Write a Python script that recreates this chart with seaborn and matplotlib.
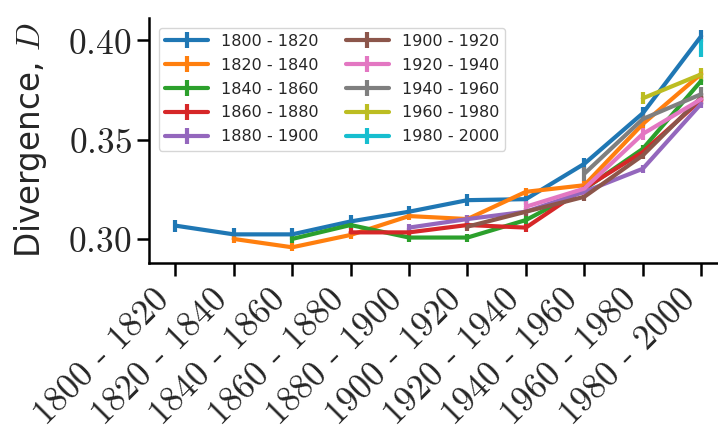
import numpy as np
import pandas as pd
import matplotlib
matplotlib.use('Agg')
import matplotlib.pyplot as plt
import seaborn as sns

periods = ['1800 - 1820', '1820 - 1840', '1840 - 1860', '1860 - 1880', '1880 - 1900',
           '1900 - 1920', '1920 - 1940', '1940 - 1960', '1960 - 1980', '1980 - 2000']

# divergence of each cohort, starting at its own period
d_1800 = [0.3067, 0.3023, 0.3023, 0.3088, 0.3137, 0.3195, 0.3200, 0.3378, 0.3632, 0.4020]
d_1820 = [0.3000, 0.2958, 0.3020, 0.3115, 0.3100, 0.3237, 0.3270, 0.3578, 0.3830]
d_1840 = [0.3000, 0.3070, 0.3007, 0.3007, 0.3095, 0.3250, 0.3453, 0.3795]
d_1860 = [0.3033, 0.3033, 0.3070, 0.3057, 0.3255, 0.3437, 0.3700]
d_1880 = [0.3057, 0.3100, 0.3137, 0.3237, 0.3353, 0.3680]
d_1900 = [0.3062, 0.3137, 0.3212, 0.3420, 0.3712]
d_1920 = [0.3162, 0.3253, 0.3528, 0.3703]
d_1940 = [0.3328, 0.3603, 0.3728]
d_1960 = [0.3707, 0.3828]
d_1980 = [0.3962]

series = [d_1800, d_1820, d_1840, d_1860, d_1880, d_1900, d_1920, d_1940, d_1960, d_1980]
errors = [0.003, 0.002, 0.002, 0.002, 0.002, 0.002, 0.003, 0.0035, 0.003, 0.0045]

rows = []
for i, vals in enumerate(series):
    for j, v in enumerate(vals):
        rows.append({'cohort': periods[i], 'period': i + j, 'D': v, 'err': errors[i]})
df = pd.DataFrame(rows)

sns.set_style('ticks')
plt.rcParams['font.family'] = ['DejaVu Sans']
plt.rcParams['mathtext.fontset'] = 'cm'
colors = sns.color_palette('tab10', 10)

fig = plt.figure(figsize=(7.18, 4.26), dpi=100)
ax = fig.add_axes([149 / 718, 1 - 263 / 426, 578.5 / 718, 245 / 426])

for k, name in enumerate(periods):
    sub = df[df['cohort'] == name]
    ax.errorbar(sub['period'], sub['D'], yerr=sub['err'], color=colors[k], lw=3,
                elinewidth=3, capsize=0, label=name)

ax.set_xlim(-0.45, 9.45)
ax.set_ylim(0.2879, 0.4111)
ax.set_xticks(range(len(periods)))
ax.set_xticklabels(periods, rotation=45, ha='right', family='cmr10', fontsize=25.5)
ax.set_yticks([0.30, 0.35, 0.40])
ax.set_yticklabels(['$0.30$', '$0.35$', '$0.40$'], fontsize=25.5)
ax.set_ylabel('Divergence, $D$', fontsize=23.5, labelpad=14)
ax.tick_params(length=9, width=1.8, color='black')
ax.tick_params(axis='x', pad=6)
for s in ['left', 'bottom']:
    ax.spines[s].set_linewidth(1.8)
    ax.spines[s].set_color('black')
sns.despine(ax=ax)

ax.legend(ncol=2, loc='upper left', fontsize=11.5, handlelength=2.7,
          bbox_to_anchor=(0.0, 1.0), borderaxespad=0.6, columnspacing=1.7,
          labelspacing=0.55, framealpha=0.8)

fig.savefig('out.png', dpi=100)
